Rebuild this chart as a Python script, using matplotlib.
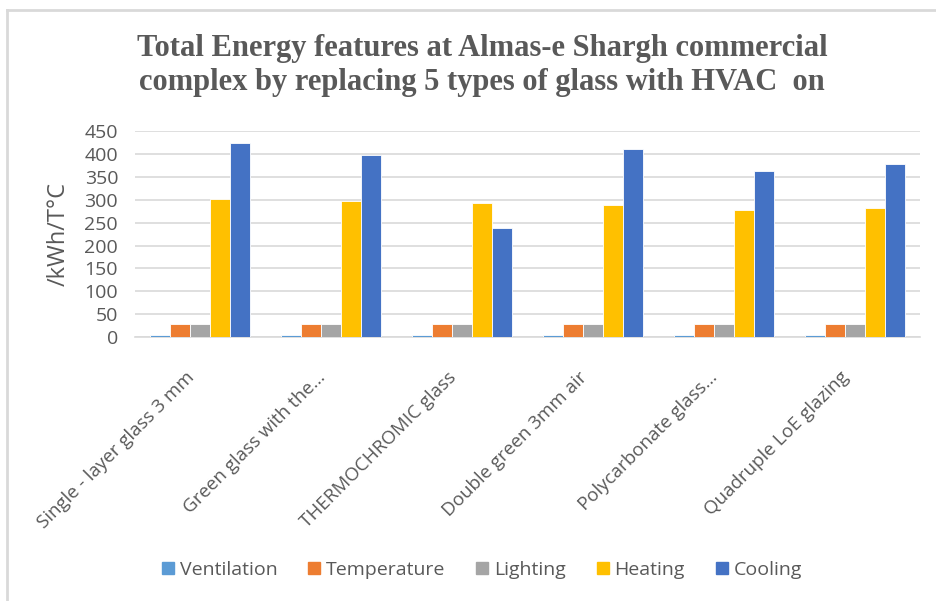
import numpy as np
import matplotlib
matplotlib.use('Agg')
import matplotlib.pyplot as plt
import matplotlib.transforms as mtransforms
from matplotlib.lines import Line2D

# glass types and energy values
glass_types = ['Single - layer glass 3 mm', 'Green glass with the…', 'THERMOCHROMIC glass',
               'Double green 3mm air', 'Polycarbonate glass…', 'Quadruple LoE glazing']
ventilation = [4, 4, 4, 4, 4, 4]
temperature = [28, 28, 28, 28, 28, 28]
lighting = [28, 28, 28, 28, 28, 28]
heating = [301, 297, 293, 288, 277, 283]
cooling = [424, 397, 238, 411, 363, 379]

series_names = ['Ventilation', 'Temperature', 'Lighting', 'Heating', 'Cooling']
series_colors = ['#5B9BD5', '#ED7D31', '#A5A5A5', '#FFC000', '#4472C4']
series = [ventilation, temperature, lighting, heating, cooling]

fig = plt.figure(figsize=(9.36, 6.01), dpi=100)
ax = fig.add_axes([0.144, 0.439, 0.839, 0.343])

x = np.arange(len(glass_types))
pitch = 0.153
for i, (vals, col) in enumerate(zip(series, series_colors)):
    ax.bar(x + (i - 2) * pitch, vals, width=pitch, color=col,
           edgecolor='white', linewidth=0.6, zorder=3)

ax.set_xlim(-0.5, len(glass_types) - 0.5)
ax.set_ylim(0, 450)
ax.set_yticks(range(0, 451, 50))
ax.yaxis.grid(True, color='#D9D9D9', linewidth=1.2, zorder=0)
for s in ['top', 'right', 'left']:
    ax.spines[s].set_visible(False)
ax.spines['bottom'].set_color('#D9D9D9')
ax.spines['bottom'].set_linewidth(1.2)
ax.tick_params(length=0, colors='#595959', labelsize=14)
ax.tick_params(axis='y', pad=12)
ax.tick_params(axis='x', pad=10)

ax.set_xticks(x)
ax.set_xticklabels(glass_types, rotation=45, ha='right', rotation_mode='anchor',
                   fontsize=13.5, color='#595959', family='Open Sans')
shift = mtransforms.ScaledTranslation(-0.15, -0.17, fig.dpi_scale_trans)
for lab in ax.get_xticklabels():
    lab.set_transform(lab.get_transform() + shift)
for lab in ax.get_yticklabels():
    lab.set_family('Open Sans')
ax.set_ylabel('/kWh/T°C', fontsize=17, color='#595959', family='Open Sans')
ax.yaxis.set_label_coords(-0.082, 0.5)

fig.text(0.515, 0.891, 'Total Energy features at Almas-e Shargh commercial\n'
         'complex by replacing 5 types of glass with HVAC  on',
         ha='center', va='center', fontsize=22, fontweight='bold',
         family='Liberation Serif', color='#595959', linespacing=1.22)

handles = [Line2D([], [], marker='s', linestyle='none', markersize=8,
                  markerfacecolor=c, markeredgecolor=c) for c in series_colors]
leg = fig.legend(handles, series_names, loc='center', bbox_to_anchor=(0.515, 0.052),
                 ncol=5, frameon=False, handlelength=0.6, handletextpad=0.3,
                 columnspacing=1.6, prop={'family': 'Open Sans', 'size': 14})
for t in leg.get_texts():
    t.set_color('#595959')

# chart border lines (left and top)
fig.add_artist(Line2D([0.008, 0.008], [0.0, 0.984], transform=fig.transFigure,
                      color='#D9D9D9', linewidth=2))
fig.add_artist(Line2D([0.008, 1.0], [0.984, 0.984], transform=fig.transFigure,
                      color='#D9D9D9', linewidth=2))

fig.savefig('out.png', dpi=100)
